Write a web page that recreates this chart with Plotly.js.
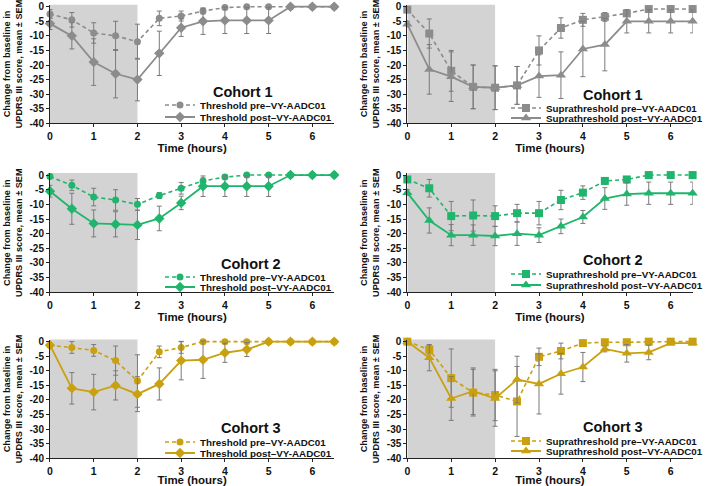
<!DOCTYPE html>
<html>
<head>
<meta charset="utf-8">
<script src="https://cdn.plot.ly/plotly-3.0.1.min.js"></script>
<style>html,body{margin:0;padding:0;background:#fff}#chart{width:709px;height:486px}</style>
</head>
<body>
<div id="chart"></div>
<script>
// ---- data ----
const hours = [0, 0.5, 1, 1.5, 2, 2.5, 3, 3.5, 4, 4.5, 5, 5.5, 6, 6.5];
const xTickVals = [0, 1, 2, 3, 4, 5, 6];
const yTickVals = [0, -5, -10, -15, -20, -25, -30, -35, -40];
const yTickText = ["0", "-5", "-10", "-15", "-20", "-25", "-30", "-35", "-40"];
const cohortLabels = ["Cohort 1", "Cohort 2", "Cohort 3"];

// Cohort 1
const c1ThrPre      = [-2.5, -4.5, -9, -10, -12, -4, -3.2, -1.5, -0.3, 0, 0, 0, 0, 0];
const c1ThrPreErr   = [1.5, 2.5, 3.5, 5, 6, 2.5, 1.7, 1, 0.3, 0, 0, 0, 0, 0];
const c1ThrPost     = [-5.8, -10, -19, -23, -25, -16, -7.2, -5, -4.7, -4.7, -4.7, 0, 0, 0];
const c1ThrPostErr  = [2, 4.5, 8, 8.3, 7.3, 7.6, 3, 4.5, 4.5, 4.5, 4.5, 0, 0, 0];
const c1SupPre      = [-1, -9.2, -22, -27.5, -27.8, -27, -15, -7.3, -4.5, -3.5, -2.3, -0.8, -0.8, -0.8];
const c1SupPreErr   = [0.5, 5, 7, 7.5, 7.5, 6.5, 5, 3.5, 2.2, 1.5, 1, 0.3, 0.3, 0.3];
const c1SupPost     = [-6, -21.5, -24, -27.5, -27.8, -27, -23.8, -23.5, -14.5, -13, -5, -5, -5, -5];
const c1SupPostErr  = [1, 8.5, 8.5, 7.5, 7.5, 6.5, 7.3, 8, 9.5, 9, 4, 4, 4, 4];
// Cohort 2
const c2ThrPre      = [-0.5, -3.5, -7.5, -8.5, -10, -7, -4.5, -2, -0.7, 0, 0, 0, 0, 0];
const c2ThrPreErr   = [0.5, 1.8, 3, 3.5, 2, 1, 2, 1, 0.7, 0, 0, 0, 0, 0];
const c2ThrPost     = [-5.5, -11.5, -16.5, -16.8, -17, -14.8, -9.5, -3.8, -3.8, -3.8, -3.8, 0, 0, 0];
const c2ThrPostErr  = [2, 5.3, 4.6, 4.3, 5, 4.2, 2.3, 3.5, 3.5, 3.5, 3.5, 0, 0, 0];
const c2SupPre      = [-1.5, -4.5, -14, -13.8, -14, -13, -13, -8.5, -6, -2, -1.5, 0, 0, 0];
const c2SupPreErr   = [0.5, 3, 5, 5.3, 3.5, 3, 4, 3.3, 2.3, 1, 1, 0.3, 0.3, 0.3];
const c2SupPost     = [-6, -15.5, -20.5, -20.5, -20.8, -20, -20.5, -17.5, -14.3, -8, -6.5, -6.2, -6.2, -6.2];
const c2SupPostErr  = [1, 4.3, 3.6, 3.5, 3.3, 4, 2.5, 2.5, 2.2, 3.7, 3.8, 3.8, 3.8, 3.8];
// Cohort 3
const c3ThrPre      = [-1.2, -2, -3, -6.5, -13.5, -3.5, -2, 0, 0, 0, 0, 0, 0, 0];
const c3ThrPreErr   = [0.5, 2, 2, 5, 9, 2, 2, 0, 0, 0, 0, 0, 0, 0];
const c3ThrPost     = [-1.2, -16, -17.3, -15, -18, -14.5, -6.5, -6.2, -3.8, -2.7, 0, 0, 0, 0];
const c3ThrPostErr  = [0.5, 5.4, 6.1, 5, 6, 5.5, 6.6, 6.4, 3.3, 2.4, 0, 0, 0, 0];
const c3SupPre      = [0, -2.7, -12.5, -17.5, -18.3, -20.5, -5.2, -3.2, -0.5, -0.2, -0.2, 0, 0, 0];
const c3SupPreErr   = [0, 1.5, 10, 8, 8.8, 12, 3, 2.7, 0.5, 0.3, 0.3, 0.3, 0.3, 0.3];
const c3SupPost     = [0, -5.5, -19.5, -17, -19.5, -13, -14.5, -11, -8.7, -2.5, -4, -3.7, -0.5, -0.5];
const c3SupPostErr  = [0, 4.5, 7.5, 8, 9.5, 8, 10.3, 7, 5, 1, 3, 2.5, 0.5, 0.5];

const cohortColors = ["#8c8c8c", "#1fb56c", "#c9a110"];

// ---- layout geometry (pixels of the 709x486 canvas) ----
const W = 709, H = 486;
const colDomains = [[0.0705, 0.4714], [0.5745, 0.9769]];
const rowDomains = [[0.7463, 0.9904], [0.3986, 0.644], [0.0570, 0.3012]];
const titleStandoff = [1, 1, 4];
// per panel: cohort label centre, legend text start x, entry centre ys
const legendGeom = [
  {cx: 243, cy: 92,  tx: 202, y1: 105, y2: 117},
  {cx: 613, cy: 95,  tx: 548, y1: 108, y2: 118},
  {cx: 251, cy: 264, tx: 202, y1: 277, y2: 287},
  {cx: 613, cy: 260, tx: 548, y1: 274, y2: 285},
  {cx: 251, cy: 428, tx: 202, y1: 442, y2: 453},
  {cx: 613, cy: 427, tx: 548, y1: 441, y2: 451}
];
const FONT = "Liberation Sans, Arial, Helvetica, sans-serif";

const panels = [
  {row:0, col:0, kind:"Threshold", pre:c1ThrPre, preE:c1ThrPreErr, post:c1ThrPost, postE:c1ThrPostErr},
  {row:0, col:1, kind:"Suprathreshold", pre:c1SupPre, preE:c1SupPreErr, post:c1SupPost, postE:c1SupPostErr},
  {row:1, col:0, kind:"Threshold", pre:c2ThrPre, preE:c2ThrPreErr, post:c2ThrPost, postE:c2ThrPostErr},
  {row:1, col:1, kind:"Suprathreshold", pre:c2SupPre, preE:c2SupPreErr, post:c2SupPost, postE:c2SupPostErr},
  {row:2, col:0, kind:"Threshold", pre:c3ThrPre, preE:c3ThrPreErr, post:c3ThrPost, postE:c3ThrPostErr},
  {row:2, col:1, kind:"Suprathreshold", pre:c3SupPre, preE:c3SupPreErr, post:c3SupPost, postE:c3SupPostErr}
];

const traces = [];
const layout = {
  width: W, height: H,
  margin: {l:0, r:0, t:0, b:0},
  paper_bgcolor: "#fff", plot_bgcolor: "rgba(0,0,0,0)",
  font: {family: FONT, color: "#111", weight: "bold"},
  showlegend: true,
  shapes: [], annotations: []
};
const legFont = {family: FONT, size: 9.8, color: "#111", weight: "bold"};
const mkLegend = (txPx, yPx) => ({
  x: (txPx - 42) / W, xanchor: "left", y: 1 - yPx / H, yanchor: "middle",
  bgcolor: "rgba(0,0,0,0)", borderwidth: 0, itemwidth: 30, font: legFont
});

panels.forEach((p, i) => {
  const n = i + 1;
  const sfx = n === 1 ? "" : String(n);
  const xa = "x" + sfx, ya = "y" + sfx;
  const lgA = "legend" + (2 * n - 1 === 1 ? "" : String(2 * n - 1));
  const lgB = "legend" + String(2 * n);
  const color = cohortColors[p.row];
  const thr = p.kind === "Threshold";
  const g = legendGeom[i];
  const errStyle = (arr) => ({type:"data", array:arr, visible:true, color:"#7a7a7a", thickness:1, width:2.5});
  traces.push({
    x: hours, y: p.pre, error_y: errStyle(p.preE), xaxis: xa, yaxis: ya, legend: lgA,
    name: p.kind + " pre–VY-AADC01", mode: "lines+markers", cliponaxis: false,
    line: {color: color, width: 1.6, dash: "4px,3px"},
    marker: {color: color, size: thr ? 7 : 8, symbol: thr ? "circle" : "square"}
  });
  traces.push({
    x: hours, y: p.post, error_y: errStyle(p.postE), xaxis: xa, yaxis: ya, legend: lgB,
    name: p.kind + " post–VY-AADC01", mode: "lines+markers", cliponaxis: false,
    line: {color: color, width: 1.8},
    marker: {color: color, size: thr ? 8 : 9, symbol: thr ? "diamond" : "triangle-up"}
  });
  const xk = "xaxis" + sfx, yk = "yaxis" + sfx;
  layout[xk] = {
    domain: colDomains[p.col], anchor: ya, range: [0, 6.5],
    tickvals: xTickVals, ticks: "outside", ticklen: 3, tickcolor: "#222",
    showline: true, linecolor: "#222", linewidth: 1, showgrid: false, zeroline: false,
    tickfont: {family: FONT, size: 10.5, color: "#111", weight: "bold"},
    title: {text: "Time (hours)", font: {family: FONT, size: 11.5, color: "#111", weight: "bold"},
            standoff: titleStandoff[p.row]}
  };
  layout[yk] = {
    domain: rowDomains[p.row], anchor: xa, range: [-40, 0.7],
    tickvals: yTickVals, ticktext: yTickText, ticks: "outside", ticklen: 3, tickcolor: "#222",
    showline: true, linecolor: "#222", linewidth: 1, showgrid: false, zeroline: false,
    tickfont: {family: FONT, size: 10, color: "#111", weight: "bold"},
    title: {text: "Change from baseline in<br>UPDRS III score, mean ± SEM",
            font: {family: FONT, size: 9.2, color: "#111", weight: "bold"}, standoff: 5}
  };
  layout.shapes.push({type:"rect", xref: xa, yref: ya + " domain", x0: 0, x1: 2, y0: 0, y1: 1,
                      fillcolor: "#d3d3d3", line: {width: 0}, layer: "below"});
  layout.annotations.push({xref: "paper", yref: "paper", x: g.cx / W, y: 1 - g.cy / H,
    text: cohortLabels[p.row], showarrow: false, xanchor: "center", yanchor: "middle",
    font: {family: FONT, size: 14.5, color: "#111", weight: "bold"}});
  layout[lgA] = mkLegend(g.tx, g.y1);
  layout[lgB] = mkLegend(g.tx, g.y2);
});

Plotly.newPlot("chart", traces, layout, {staticPlot: true, displayModeBar: false});
</script>
</body>
</html>
